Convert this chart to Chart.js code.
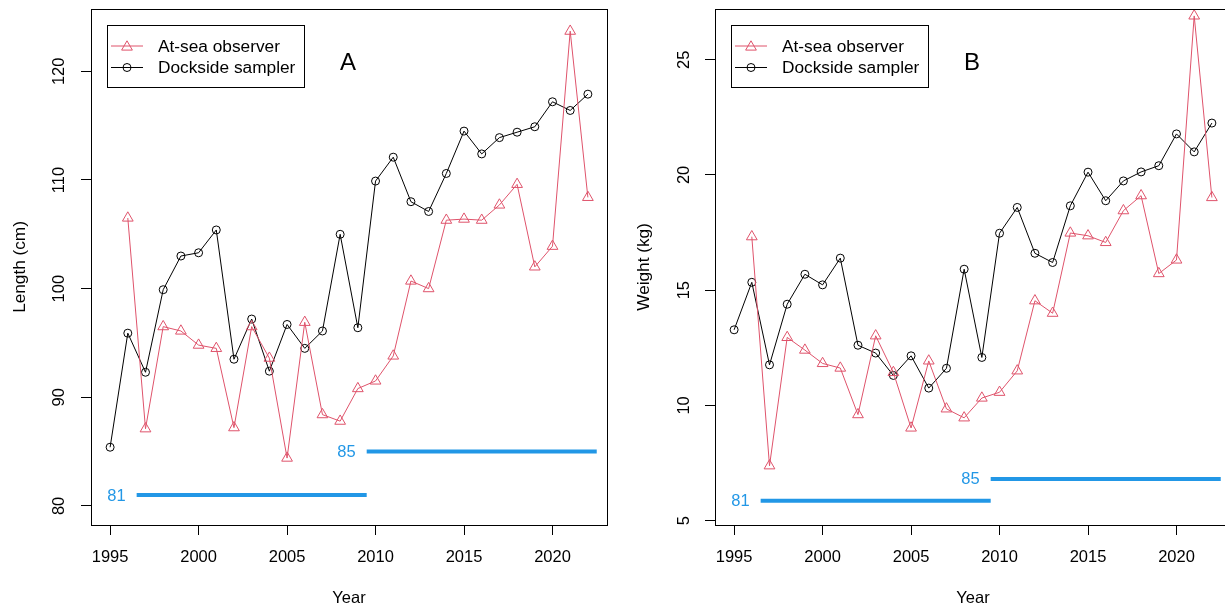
<!DOCTYPE html>
<html>
<head>
<meta charset="utf-8">
<script src="https://cdn.jsdelivr.net/npm/chart.js@4/dist/chart.umd.min.js"></script>
<style>
  html, body { margin: 0; padding: 0; background: #fff; overflow: hidden; width: 1225px; height: 608px; }
  .panel { position: absolute; top: 0; width: 615px; height: 608px; }
  #panelA { left: 0; }
  #panelB { left: 624px; }
</style>
</head>
<body>
<div class="panel" id="panelA"><canvas id="chartA" width="615" height="608"></canvas></div>
<div class="panel" id="panelB"><canvas id="chartB" width="615" height="608"></canvas></div>
<script>
// Survey years
const years = [1995, 1996, 1997, 1998, 1999, 2000, 2001, 2002, 2003, 2004, 2005, 2006, 2007, 2008,
               2009, 2010, 2011, 2012, 2013, 2014, 2015, 2016, 2017, 2018, 2019, 2020, 2021, 2022];
const xTicks = [1995, 2000, 2005, 2010, 2015, 2020];
const lengthTicks = [80, 90, 100, 110, 120];
const weightTicks = [5, 10, 15, 20, 25];

// Mean length (cm)
const lengthObserver = [null, 106.5, 87.1, 96.5, 96.1, 94.8, 94.5, 87.2, 96.5, 93.6, 84.4, 96.9, 88.4, 87.8,
                        90.8, 91.5, 93.8, 100.7, 100.0, 106.3, 106.4, 106.3, 107.7, 109.6, 102.0, 103.9, 123.7, 108.4];
const lengthDockside = [85.4, 95.9, 92.3, 99.9, 103.0, 103.3, 105.4, 93.5, 97.2, 92.4, 96.7, 94.5, 96.1, 105.0,
                        96.4, 109.9, 112.1, 108.0, 107.1, 110.6, 114.5, 112.4, 113.9, 114.4, 114.9, 117.2, 116.4, 117.9];

// Mean weight (kg)
const weightObserver = [null, 17.32, 7.38, 12.95, 12.40, 11.82, 11.62, 9.60, 13.02, 11.43, 9.02, 11.93, 9.85, 9.46,
                        10.32, 10.57, 11.50, 14.54, 14.00, 17.48, 17.36, 17.07, 18.45, 19.10, 15.72, 16.31, 26.90, 19.02];
const weightDockside = [13.28, 15.34, 11.76, 14.39, 15.69, 15.23, 16.39, 12.61, 12.27, 11.30, 12.15, 10.75, 11.61, 15.91,
                        12.08, 17.47, 18.59, 16.60, 16.20, 18.66, 20.12, 18.88, 19.74, 20.13, 20.40, 21.78, 21.00, 22.25];

// Minimum size limits and the years they applied
const limitLabels = ['81', '85'];
const limitStart = [1996.5, 2009.5];
const limitEnd = [2009.5, 2022.5];
const lengthLimits = [81, 85];
const weightLimits = [5.86, 6.81];

const seriesNames = ['At-sea observer', 'Dockside sampler'];

const FONT = "'Liberation Sans', Arial, Helvetica, sans-serif";
const RED = '#DF536B';
const BLUE = '#2297E6';
const font = { family: FONT, size: 16.5 };
const titleFont = { family: FONT, size: 17.2 };

function toPoints(values) {
  return years.map((yr, i) => ({ x: yr, y: values[i] }));
}

function drawMarker(ctx, style, x, y, color) {
  ctx.save();
  ctx.strokeStyle = color;
  ctx.lineWidth = 1;
  ctx.beginPath();
  if (style === 'triangle') {
    const r = 6.2;
    ctx.moveTo(x, y - r);
    ctx.lineTo(x + r * Math.sin(2 * Math.PI / 3), y + r / 2);
    ctx.lineTo(x - r * Math.sin(2 * Math.PI / 3), y + r / 2);
    ctx.closePath();
  } else {
    ctx.arc(x, y, 4, 0, Math.PI * 2);
  }
  ctx.stroke();
  ctx.restore();
}

// Frame, legend, panel letter and limit labels
const decorations = {
  id: 'decorations',
  afterDatasetsDraw(chart, args, opts) {
    const { ctx, chartArea: a, scales } = chart;
    ctx.save();
    ctx.strokeStyle = '#000';
    ctx.lineWidth = 1;
    ctx.strokeRect(Math.round(a.left) + 0.5, Math.round(a.top) + 0.5,
                   Math.round(a.right - a.left), Math.round(a.bottom - a.top));

    // legend box
    const lx = a.left + 16, ly = a.top + 16;
    ctx.fillStyle = '#fff';
    ctx.fillRect(lx, ly, 197, 62);
    ctx.strokeRect(Math.round(lx) + 0.5, Math.round(ly) + 0.5, 197, 62);
    const rows = [
      { name: seriesNames[0], color: RED, style: 'triangle', y: a.top + 37 },
      { name: seriesNames[1], color: '#000', style: 'circle', y: a.top + 58.5 }
    ];
    ctx.font = `17.3px ${FONT}`;
    ctx.textBaseline = 'middle';
    ctx.textAlign = 'left';
    rows.forEach(r => {
      ctx.strokeStyle = r.color;
      ctx.beginPath();
      ctx.moveTo(a.left + 20, r.y);
      ctx.lineTo(a.left + 52, r.y);
      ctx.stroke();
      drawMarker(ctx, r.style, a.left + 36, r.y + (r.style === 'triangle' ? 1 : 0), r.color);
      ctx.fillStyle = '#000';
      ctx.fillText(r.name, a.left + 67, r.y + 1);
    });

    // panel letter
    ctx.font = `24px ${FONT}`;
    ctx.textAlign = 'center';
    ctx.fillStyle = '#000';
    ctx.fillText(opts.letter, a.left + 257, a.top + 54);

    // size limit labels
    ctx.font = `16.5px ${FONT}`;
    ctx.textAlign = 'right';
    ctx.fillStyle = BLUE;
    opts.limits.forEach((v, i) => {
      const px = scales.x.getPixelForValue(limitStart[i]) - 11;
      const py = scales.y.getPixelForValue(v);
      ctx.fillText(limitLabels[i], px, py + 1);
    });
    ctx.restore();
  }
};

function makePanel(id, cfg) {
  const datasets = [
    {
      data: toPoints(cfg.observer), borderColor: RED, borderWidth: 1, tension: 0,
      pointStyle: 'triangle', pointRadius: 6.2, pointBorderColor: RED, pointBorderWidth: 1,
      pointBackgroundColor: 'rgba(0,0,0,0)', spanGaps: false
    },
    {
      data: toPoints(cfg.dockside), borderColor: '#000', borderWidth: 1, tension: 0,
      pointStyle: 'circle', pointRadius: 4, pointBorderColor: '#000', pointBorderWidth: 1,
      pointBackgroundColor: 'rgba(0,0,0,0)'
    }
  ];
  cfg.limits.forEach((v, i) => {
    datasets.push({
      data: [{ x: limitStart[i], y: v }, { x: limitEnd[i], y: v }],
      borderColor: BLUE, borderWidth: 4, pointRadius: 0, borderCapStyle: 'butt'
    });
  });

  return new Chart(document.getElementById(id), {
    type: 'line',
    data: { datasets },
    plugins: [decorations],
    options: {
      responsive: false,
      animation: false,
      devicePixelRatio: 1,
      layout: { padding: { left: 0, right: 8, top: 9, bottom: 0 } },
      plugins: {
        legend: { display: false },
        tooltip: { enabled: false },
        decorations: { letter: cfg.letter, limits: cfg.limits }
      },
      scales: {
        x: {
          type: 'linear',
          min: 1993.92,
          max: 2023.08,
          afterBuildTicks: s => { s.ticks = xTicks.map(v => ({ value: v })); },
          afterFit: s => { s.height = 83; s.paddingLeft = 0; s.paddingRight = 0; },
          ticks: { color: '#000', font, padding: 13, maxRotation: 0, autoSkip: false,
                   callback: v => String(v) },
          grid: { display: true, drawOnChartArea: false, drawTicks: true, tickLength: 10,
                  color: '#000', lineWidth: 1 },
          border: { display: true, color: '#000', width: 1 },
          title: { display: true, text: 'Year', color: '#000', font, padding: { top: 0, bottom: 0 } }
        },
        y: {
          type: 'linear',
          min: cfg.yMin,
          max: cfg.yMax,
          afterBuildTicks: s => { s.ticks = cfg.yTicks.map(v => ({ value: v })); },
          afterFit: s => { s.width = 91; s.paddingTop = 0; s.paddingBottom = 0; },
          ticks: { color: '#000', font, padding: cfg.yTickPad, minRotation: 90, maxRotation: 90,
                   crossAlign: 'center', autoSkip: false, callback: v => String(v) },
          grid: { display: true, drawOnChartArea: false, drawTicks: true, tickLength: 10,
                  color: '#000', lineWidth: 1 },
          border: { display: true, color: '#000', width: 1 },
          title: { display: true, text: cfg.yTitle, color: '#000', font: titleFont,
                   padding: { top: 10, bottom: 0 } }
        }
      }
    }
  });
}

makePanel('chartA', {
  observer: lengthObserver, dockside: lengthDockside, limits: lengthLimits,
  yMin: 78.24, yMax: 125.74, yTicks: lengthTicks, yTitle: 'Length (cm)',
  letter: 'A', yTickPad: 7.5
});
makePanel('chartB', {
  observer: weightObserver, dockside: weightDockside, limits: weightLimits,
  yMin: 4.81, yMax: 27.2, yTicks: weightTicks, yTitle: 'Weight (kg)',
  letter: 'B', yTickPad: 11.5
});
</script>
</body>
</html>
